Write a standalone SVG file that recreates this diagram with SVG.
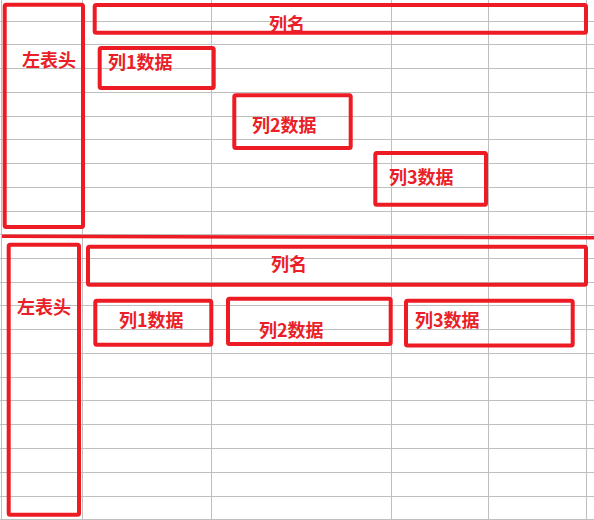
<svg xmlns="http://www.w3.org/2000/svg" width="594" height="520" viewBox="0 0 594 520">
  <style>
    .grid line { stroke: #bfbfbf; stroke-width: 1; }
    .box { fill: none; stroke: #ed1c24; stroke-width: 4; stroke-linejoin: round; }
    .lbl { font-family: "Noto Sans CJK SC", "Noto Sans", sans-serif; font-weight: bold; font-size: 18px; fill: #ea1f29; }
  </style>
  <rect x="0" y="0" width="594" height="520" fill="#ffffff"/>
  <g id="grid" class="grid">
    <line x1="1.5" y1="0" x2="1.5" y2="520"/>
    <line x1="82.5" y1="0" x2="82.5" y2="520"/>
    <line x1="211.5" y1="0" x2="211.5" y2="520"/>
    <line x1="391.5" y1="0" x2="391.5" y2="520"/>
    <line x1="488.5" y1="0" x2="488.5" y2="520"/>
    <line x1="586.5" y1="0" x2="586.5" y2="520"/>
    <line x1="0" y1="21.5" x2="594" y2="21.5"/>
    <line x1="0" y1="44.5" x2="594" y2="44.5"/>
    <line x1="0" y1="68.5" x2="594" y2="68.5"/>
    <line x1="0" y1="92.5" x2="594" y2="92.5"/>
    <line x1="0" y1="116.5" x2="594" y2="116.5"/>
    <line x1="0" y1="139.5" x2="594" y2="139.5"/>
    <line x1="0" y1="163.5" x2="594" y2="163.5"/>
    <line x1="0" y1="187.5" x2="594" y2="187.5"/>
    <line x1="0" y1="211.5" x2="594" y2="211.5"/>
    <line x1="0" y1="234.5" x2="594" y2="234.5"/>
    <line x1="0" y1="258.5" x2="594" y2="258.5"/>
    <line x1="0" y1="282.5" x2="594" y2="282.5"/>
    <line x1="0" y1="305.5" x2="594" y2="305.5"/>
    <line x1="0" y1="329.5" x2="594" y2="329.5"/>
    <line x1="0" y1="353.5" x2="594" y2="353.5"/>
    <line x1="0" y1="377.5" x2="594" y2="377.5"/>
    <line x1="0" y1="400.5" x2="594" y2="400.5"/>
    <line x1="0" y1="424.5" x2="594" y2="424.5"/>
    <line x1="0" y1="448.5" x2="594" y2="448.5"/>
    <line x1="0" y1="472.5" x2="594" y2="472.5"/>
    <line x1="0" y1="496.5" x2="594" y2="496.5"/>
    <line x1="0" y1="519.5" x2="594" y2="519.5"/>
  </g>

  <g id="connectors">
    <line x1="2" y1="236.3" x2="594" y2="237.8" stroke="#ed1c24" stroke-width="3.5"/>
  </g>

  <!-- top section -->
  <g id="top-left-header">
    <rect class="box" x="4.7" y="4.7" width="78.3" height="222.3" rx="1.5"/>
    <text class="lbl" x="22" y="67">左表头</text>
  </g>
  <g id="top-col-name">
    <rect class="box" x="94.7" y="5" width="491.3" height="27.7" rx="1.5"/>
    <text class="lbl" x="269" y="30.5">列名</text>
  </g>
  <g id="top-col1">
    <rect class="box" x="99.7" y="48" width="114" height="40" rx="1.5"/>
    <text class="lbl" x="108" y="68.5">列1数据</text>
  </g>
  <g id="top-col2">
    <rect class="box" x="234.3" y="95.3" width="116.4" height="52.7" rx="1.5"/>
    <text class="lbl" x="252" y="132">列2数据</text>
  </g>
  <g id="top-col3">
    <rect class="box" x="375.3" y="153" width="110.7" height="51.7" rx="1.5"/>
    <text class="lbl" x="389" y="184">列3数据</text>
  </g>

  <!-- bottom section -->
  <g id="bottom-left-header">
    <rect class="box" x="8.7" y="244.7" width="70.3" height="270" rx="1.5"/>
    <text class="lbl" x="17" y="313.5">左表头</text>
  </g>
  <g id="bottom-col-name">
    <rect class="box" x="88" y="246.7" width="498" height="38" rx="1.5"/>
    <text class="lbl" x="271" y="270.5">列名</text>
  </g>
  <g id="bottom-col1">
    <rect class="box" x="95.3" y="300.7" width="116" height="44" rx="1.5"/>
    <text class="lbl" x="119" y="326.5">列1数据</text>
  </g>
  <g id="bottom-col2">
    <rect class="box" x="228" y="298.7" width="162.7" height="45.3" rx="1.5"/>
    <text class="lbl" x="259" y="337">列2数据</text>
  </g>
  <g id="bottom-col3">
    <rect class="box" x="406" y="300.7" width="166.7" height="44.7" rx="1.5"/>
    <text class="lbl" x="415" y="326.5">列3数据</text>
  </g>
</svg>
